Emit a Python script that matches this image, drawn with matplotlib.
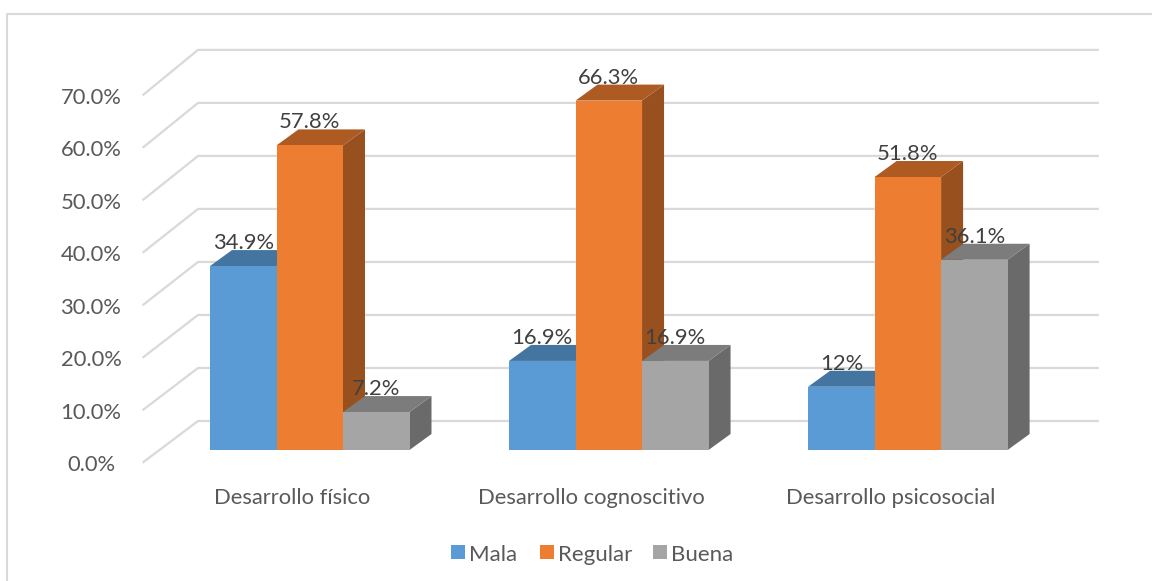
import matplotlib
matplotlib.use('Agg')
import matplotlib.pyplot as plt
from matplotlib.patches import Polygon, Rectangle

plt.rcParams['font.family'] = ['Lato', 'DejaVu Sans']

# Datos
categorias = ['Desarrollo físico', 'Desarrollo cognoscitivo', 'Desarrollo psicosocial']
series = ['Mala', 'Regular', 'Buena']
mala = [34.9, 16.9, 12.0]
regular = [57.8, 66.3, 51.8]
buena = [7.2, 16.9, 36.1]
etiquetas = [['34.9%', '16.9%', '12%'], ['57.8%', '66.3%', '51.8%'], ['7.2%', '16.9%', '36.1%']]
ticks = [0, 10, 20, 30, 40, 50, 60, 70]

colores = ['#5B9BD5', '#ED7D31', '#A5A5A5']
laterales = ['#3E6F9C', '#97501E', '#6A6A6A']
superiores = ['#4475A0', '#AE5B23', '#7C7C7C']

W, H = 1152, 581
px_x = 66.5   # pixeles por ancho de barra
px_y = 5.27   # pixeles por 1%
x0, y0 = 210, 450

fig = plt.figure(figsize=(W / 100, H / 100), dpi=100)
ax = fig.add_axes([0, 0, 1, 1])
ax.set_xlim(-x0 / px_x, (W - x0) / px_x)
ax.set_ylim((y0 - H) / px_y, y0 / px_y)
ax.axis('off')

# Marco
marco_x = [(x - x0) / px_x for x in (6.5, 6.5, 1152)]
marco_y = [(y0 - y) / px_y for y in (581, 14.5, 14.5)]
ax.plot(marco_x, marco_y, color='#D9D9D9', lw=1.5, zorder=1)

# Rejilla: piso oblicuo
fx, bx, rx = -1.0, -0.18, 13.35
fy, by = -12 / px_y, 29 / px_y
for t in ticks:
    ax.plot([fx, bx, rx], [t * 0.996 + fy, t * 1.006 + by, t * 1.006 + by], color='#D9D9D9', lw=1.6, zorder=2)
    ax.text(-1.79, t * 0.996 + fy - 3 / px_y, f'{t:.1f}%', ha='center', va='center', fontsize=15.8, color='#595959')

# Barras 3D
dx, dy = 22 / px_x, 16 / px_y
periodo = 4.497
z = 3
for g in range(3):
    valores = [mala[g], regular[g], buena[g]]
    for s, v in enumerate(valores):
        x = g * periodo + s
        ax.add_patch(Polygon([(x + 1, 0), (x + 1 + dx, dy), (x + 1 + dx, v + dy), (x + 1, v)], color=laterales[s], lw=0, zorder=z))
        ax.add_patch(Polygon([(x, v), (x + dx, v + dy), (x + 1 + dx, v + dy), (x + 1, v)], color=superiores[s], lw=0, zorder=z))
        ax.add_patch(Rectangle((x, 0), 1, v, color=colores[s], lw=0, zorder=z + 0.5))
        z += 1
        ax.text(x + 0.5, v + 23 / px_y, etiquetas[s][g], ha='center', va='center', fontsize=15.8, color='#404040', zorder=50)
    ax.text(g * periodo + 1.24, -47.5 / px_y, categorias[g], ha='center', va='center', fontsize=15.8, color='#595959')

# Leyenda
ley_x = [451, 540, 653]
for s, nombre in enumerate(series):
    xl = (ley_x[s] - x0) / px_x
    ax.add_patch(Rectangle((xl, (y0 - 559) / px_y), 14 / px_x, 14 / px_y, color=colores[s], lw=0))
    ax.text(xl + 18 / px_x, (y0 - 555) / px_y, nombre, ha='left', va='center', fontsize=16, color='#595959')

fig.savefig('out.png', dpi=100)
